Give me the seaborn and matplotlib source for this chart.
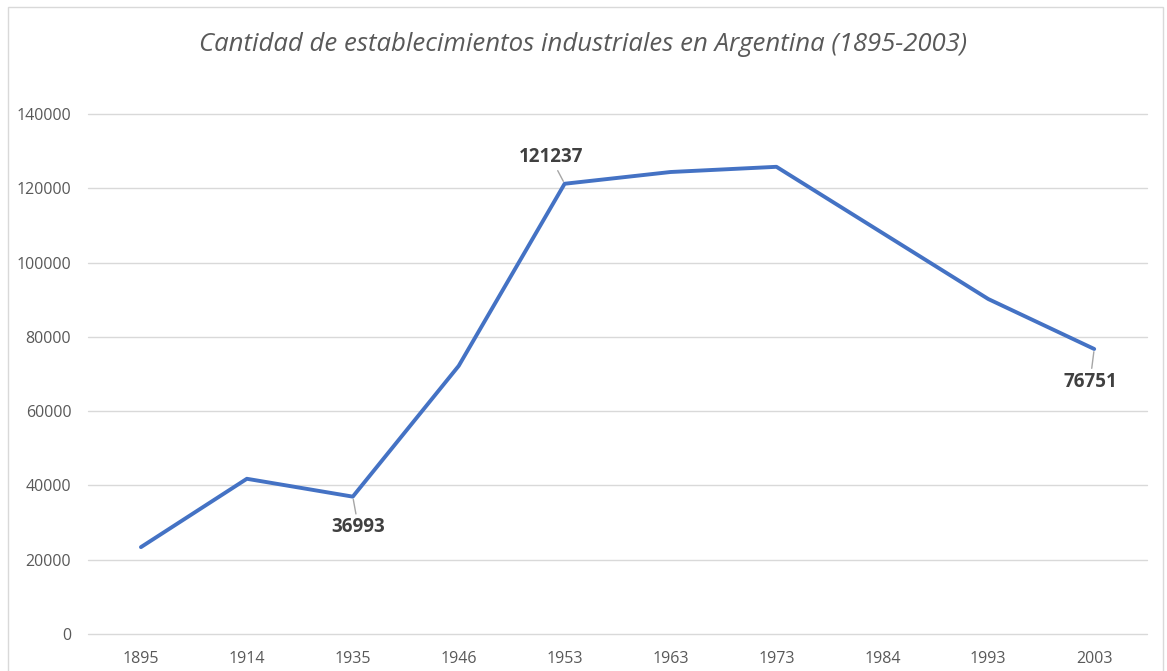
import matplotlib
matplotlib.use("Agg")
import matplotlib.pyplot as plt
import seaborn as sns
import pandas as pd
from matplotlib.patches import Rectangle

years = ["1895", "1914", "1935", "1946", "1953", "1963", "1973", "1984", "1993", "2003"]
establecimientos = [23400, 41800, 36993, 72200, 121237, 124400, 125800, 108000, 90200, 76751]
y_ticks = [0, 20000, 40000, 60000, 80000, 100000, 120000, 140000]

# points that carry a label, with label offsets in points
labels = {"1935": (4, -22), "1953": (-10, 19), "2003": (-3, -23.5)}

df = pd.DataFrame({"anio": years, "valor": establecimientos})
df["pos"] = range(len(df))

sns.set_theme(style="white")
plt.rcParams["font.family"] = ["Open Sans", "DejaVu Sans"]

fig = plt.figure(figsize=(11.67, 6.71), dpi=100)
ax = fig.add_axes([0.0754, 0.0551, 0.9076, 0.7749])

sns.lineplot(data=df, x="pos", y="valor", ax=ax, color="#4472C4", linewidth=2.8)

ax.set_xlim(-0.5, len(years) - 0.5)
ax.set_ylim(0, 140000)
ax.set_yticks(y_ticks)
ax.set_yticklabels([str(v) for v in y_ticks], fontsize=11.5, color="#595959")
ax.set_xticks(df["pos"])
ax.set_xticklabels(years, fontsize=11.5, color="#595959")
ax.tick_params(axis="both", length=0, pad=12)
ax.grid(axis="y", color="#D9D9D9", linewidth=1)
for gl in ax.get_ygridlines():
    gl.set_clip_on(False)
ax.set_axisbelow(True)
for s in ax.spines.values():
    s.set_visible(False)
ax.set_xlabel("")
ax.set_ylabel("")

for _, row in df.iterrows():
    if row["anio"] in labels:
        dx, dy = labels[row["anio"]]
        ax.annotate(str(row["valor"]), xy=(row["pos"], row["valor"]),
                    xytext=(dx, dy), textcoords="offset points",
                    ha="center", va="center", fontsize=13.5, fontweight="bold",
                    color="#404040",
                    arrowprops=dict(arrowstyle="-", color="#A6A6A6", lw=1,
                                    shrinkA=0, shrinkB=2))

fig.text(0.5, 0.934, "Cantidad de establecimientos industriales en Argentina (1895-2003)",
         ha="center", va="center", fontsize=18.5, style="italic", color="#595959")

fig.patches.append(Rectangle((0.007, -0.01), 0.99, 1.0, transform=fig.transFigure,
                             fill=False, edgecolor="#D9D9D9", linewidth=1))

fig.savefig("out.png", dpi=100)
